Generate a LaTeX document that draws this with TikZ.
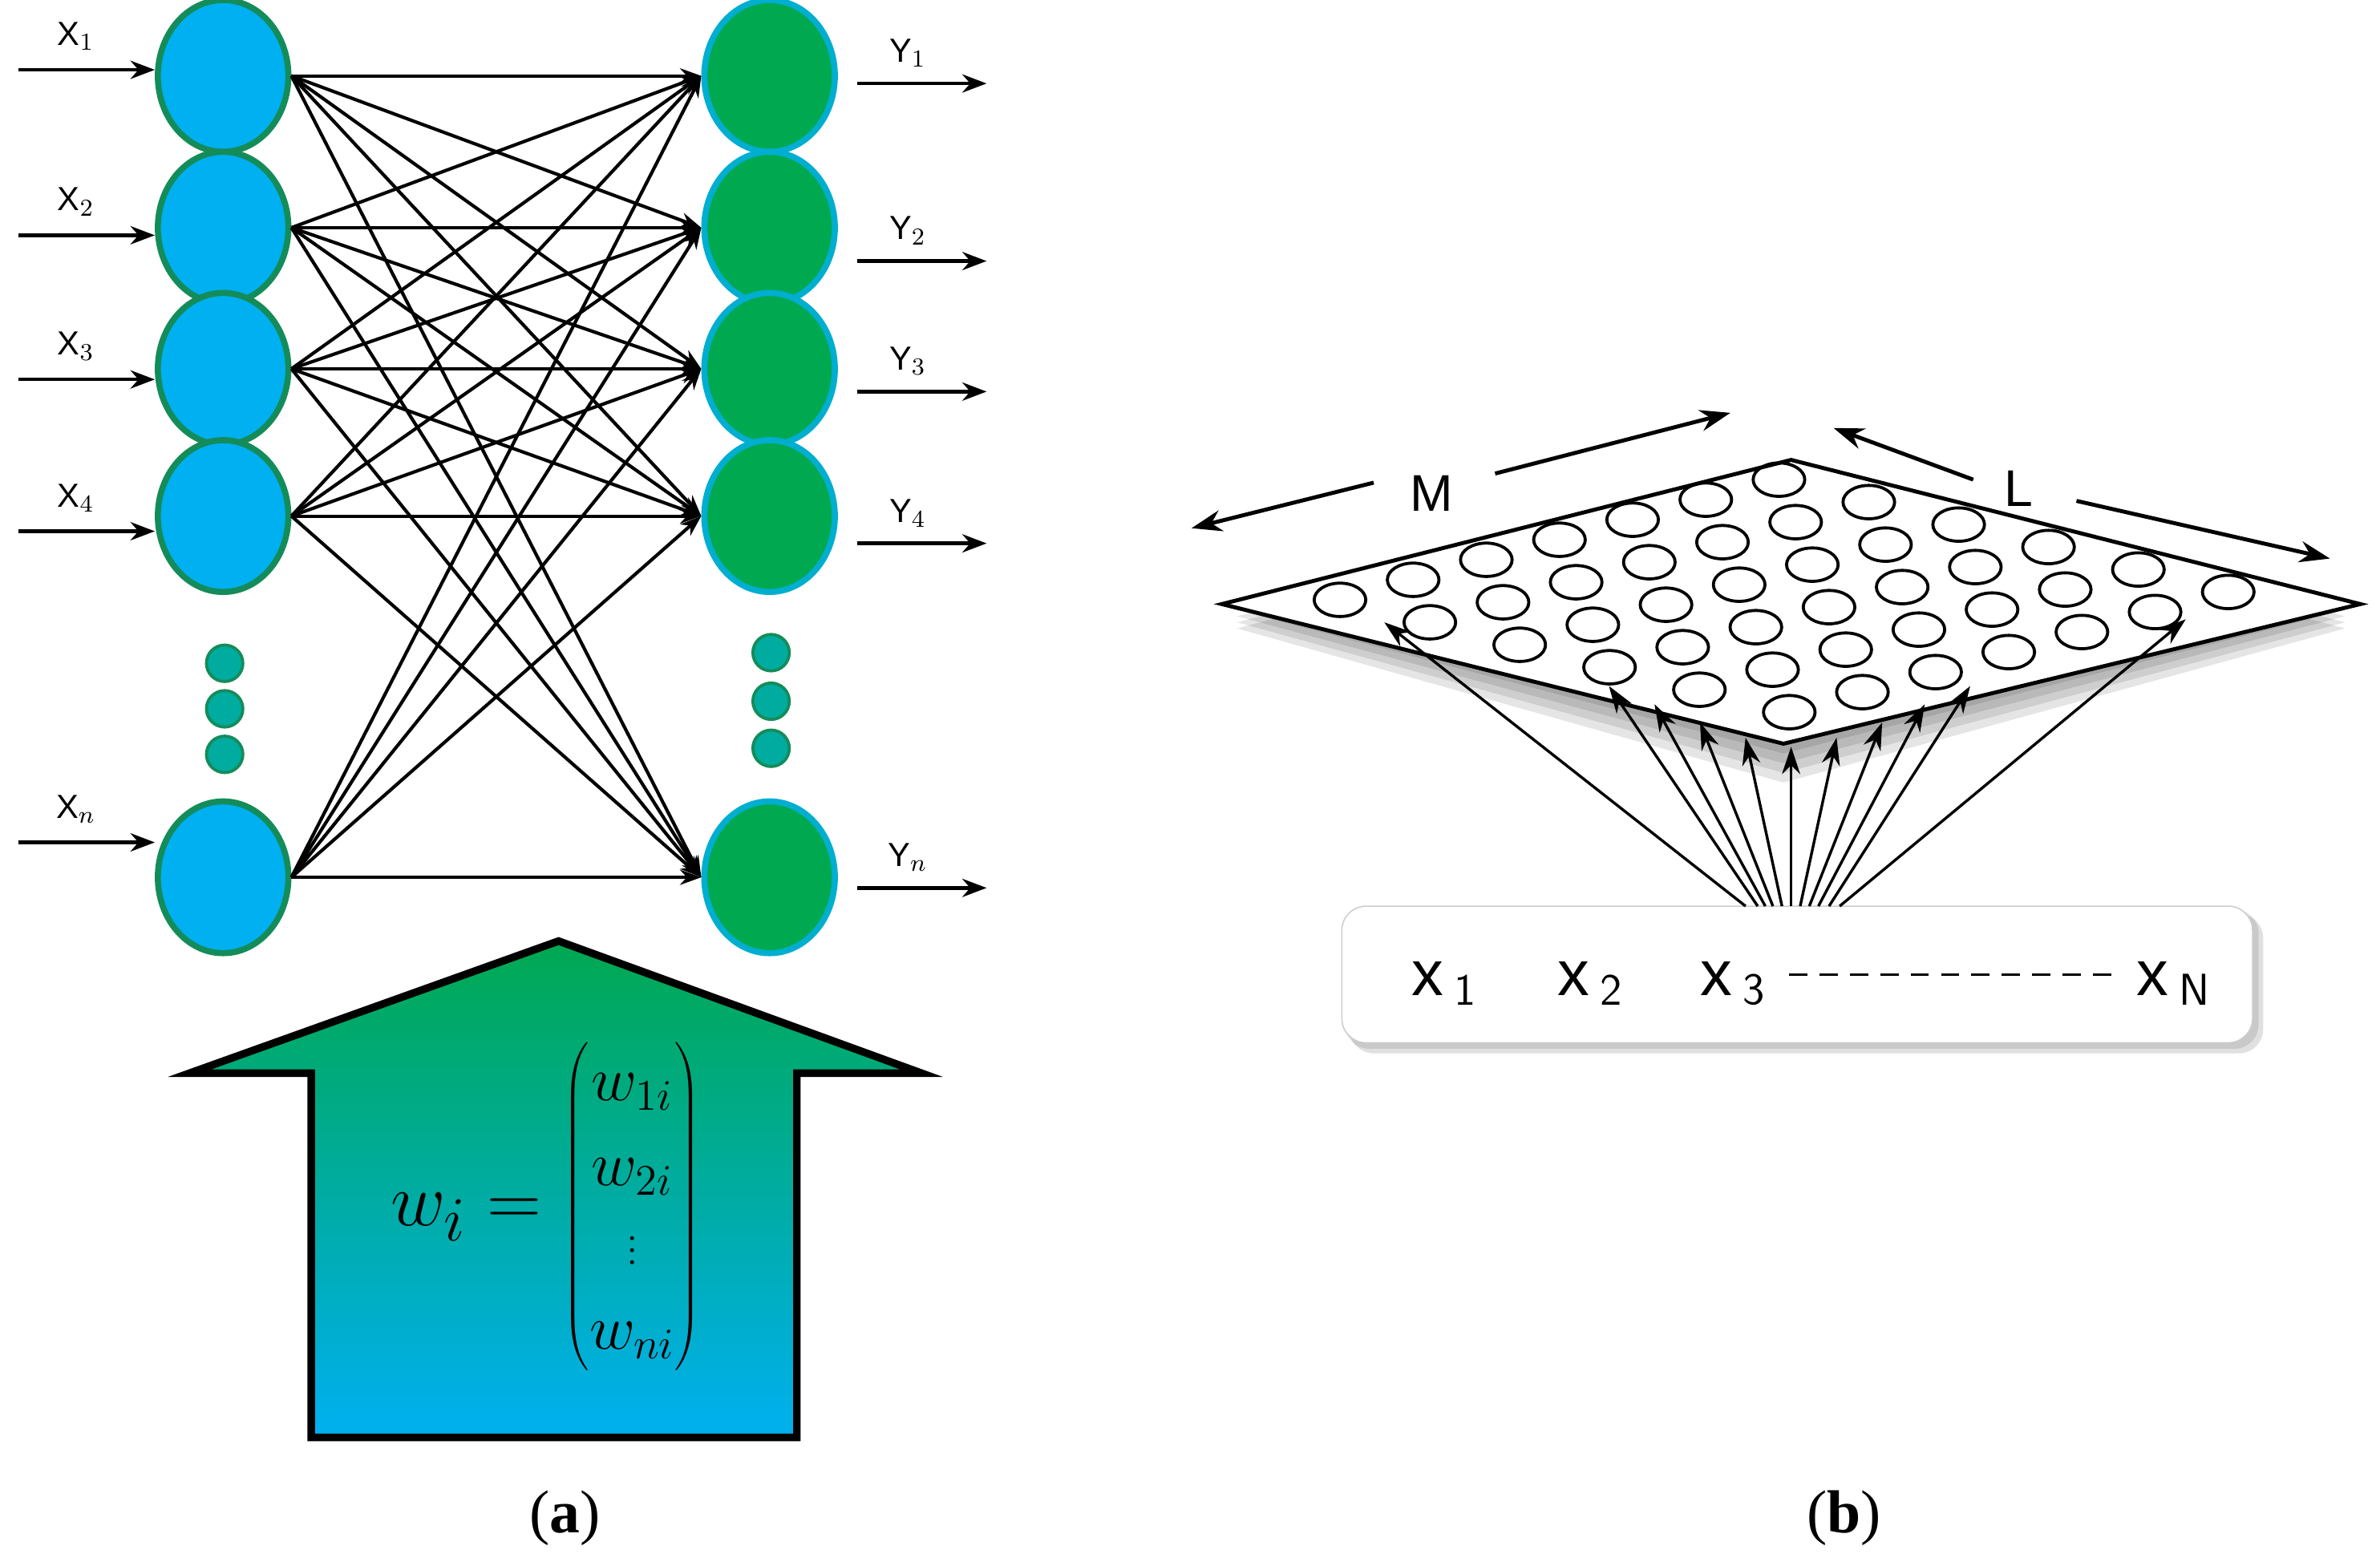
\documentclass[tikz,border=0pt]{standalone}
\usepackage{fontspec}
\setmainfont{Liberation Serif}
\newfontfamily\sansf{Liberation Sans}
\usetikzlibrary{shapes.geometric,arrows.meta}
\definecolor{cya}{RGB}{0,176,240}
\definecolor{grn}{RGB}{0,168,80}
\definecolor{dgrn}{RGB}{20,140,90}
\newcommand{\mentry}[1]{\mbox{\fontsize{21}{22}\selectfont$#1$}}
\begin{document}
\begin{tikzpicture}[x=0.5pt,y=-0.5pt,
  inn/.style={ellipse,minimum width=43pt,minimum height=50pt,inner sep=0,fill=cya,draw=dgrn,line width=2pt},
  outn/.style={ellipse,minimum width=43pt,minimum height=50pt,inner sep=0,fill=grn,draw=cya!80!grn,line width=2pt},
  dotn/.style={circle,minimum size=12pt,inner sep=0,fill=cya!50!grn,draw=dgrn,line width=1pt},
  con/.style={-{Stealth[length=7pt,width=5pt]},line width=1.1pt},
  io/.style={-{Stealth[length=8pt,width=6pt]},line width=1.2pt},
  lab/.style={font=\sansf\fontsize{11}{12}\selectfont},
  cell/.style={ellipse,minimum width=17pt,minimum height=11pt,inner sep=0,draw,line width=1pt},
  captxt/.style={font=\fontsize{20}{22}\selectfont}]
\useasboundingbox (0,0) rectangle (1568,1028.6);
% ---- (a) ----
\foreach \i/\y in {1/50,2/150,3/243,4/340,5/578}{
  \node[inn] (L\i) at (147,\y) {};
  \node[outn] (R\i) at (507,\y) {};
}
\foreach \y [count=\k] in {437,467,497}{\node[dotn] (dl\k) at (148,\y) {};}
\foreach \y [count=\k] in {430,462,493}{\node[dotn] (dr\k) at (508,\y) {};}
\foreach \i in {1,...,5}{\foreach \j in {1,...,5}{\draw[con] (L\i.east) -- (R\j.west);}}
\foreach \i/\y/\t in {1/46/X$_1$,2/155/X$_2$,3/250/X$_3$,4/350/X$_4$,5/555/X$_n$}{
  \coordinate (a\i) at (12,\y);
  \draw[io] (a\i) -- (L\i.west|-a\i);
  \node[lab] at (50,\y-22) {\t};
}
\foreach \i/\y/\t in {1/55/Y$_1$,2/172/Y$_2$,3/258/Y$_3$,4/358/Y$_4$,5/585/Y$_n$}{
  \coordinate (s\i) at (565,\y);\coordinate (e\i) at (650,\y);
  \draw[io] (s\i) -- (e\i);
  \node[lab] at (598,\y-20) {\t};
}
\shade[top color=grn,bottom color=cya,draw=black,line width=2.5pt]
  (368,620) -- (607,707) -- (525,707) -- (525,947) -- (205,947) -- (205,707) -- (125,707) -- cycle;
\node (wi) at (360,795) {\fontsize{30}{30}\selectfont$w_i=\left(\begin{array}{@{}c@{}}\mentry{w_{1i}}\\[-2pt]\mentry{w_{2i}}\\[-4pt]\mbox{\fontsize{11}{11}\selectfont$\vdots$}\\[-2pt]\mentry{w_{ni}}\end{array}\right)$};
\node[captxt] (ca) at (372,1000) {(\textbf{a})};
% ---- (b) ----
\foreach \o in {16,12,8,4}{
  \fill[black,opacity=0.10] (815,398+\o) -- (1180,303+\o) -- (1545,398+\o) -- (1175,490+\o*1.6) -- cycle;}
\draw[fill=white,line width=1.3pt] (805,398) -- (1180,303) -- (1555,398) -- (1175,490) -- cycle;
\foreach \a in {0,...,6}{\foreach \b in {0,...,5}{
  \node[cell] (c\a\b) at ({1172-48.2*\a+59.2*\b},{316+13.2*\a+14.8*\b}) {};}}
\draw[-{Stealth[length=10pt,width=7pt]},line width=1.3pt] (905,318) -- (785,348);
\node[font=\sansf\fontsize{17}{18}\selectfont] (M) at (943,325) {M};
\draw[-{Stealth[length=10pt,width=7pt]},line width=1.3pt] (985,312) -- (1140,272);
\draw[-{Stealth[length=10pt,width=7pt]},line width=1.3pt] (1300,316) -- (1208,282);
\node[font=\sansf\fontsize{17}{18}\selectfont] (Lb) at (1330,322) {L};
\draw[-{Stealth[length=10pt,width=7pt]},line width=1.3pt] (1368,330) -- (1535,368);
\fill[black,opacity=0.12,rounded corners=8pt] (889,602) rectangle (1491,694);
\fill[black,opacity=0.10,rounded corners=8pt] (886,599) rectangle (1488,691);
\node[draw=black!20,fill=white,rounded corners=8pt,minimum width=300pt,minimum height=45pt,inner sep=0] (box) at (1184,642) {};
\foreach \s/\tx/\ty [count=\k] in {1150/912/410,1158/1060/452,1163/1090/464,1168/1120/476,1174/1150/486,1180/1180/492,1186/1210/486,1192/1240/476,1198/1268/464,1205/1298/452,1212/1440/408}{
  \coordinate (t\k) at (\tx,\ty);
  \draw[-{Stealth[length=9pt,width=6pt]},line width=0.9pt] (\s,597) -- (t\k);
}
\node[font=\sansf\fontsize{21}{22}\selectfont] (x1) at (952,648) {x\,$_{\mathsf 1}$};
\node[font=\sansf\fontsize{21}{22}\selectfont] (x2) at (1048,648) {x\,$_{\mathsf 2}$};
\node[font=\sansf\fontsize{21}{22}\selectfont] (x3) at (1142,648) {x\,$_{\mathsf 3}$};
\node[font=\sansf\fontsize{21}{22}\selectfont] (xN) at (1432,648) {x\,$_{\mathsf N}$};
\draw[dashed,line width=0.8pt,dash pattern=on 6pt off 4pt] (x3.east) ++(8,-6) coordinate (d1) -- (1392,642) coordinate (d2);
\node[captxt] (cb) at (1215,1000) {(\textbf{b})};
\end{tikzpicture}
\end{document}
